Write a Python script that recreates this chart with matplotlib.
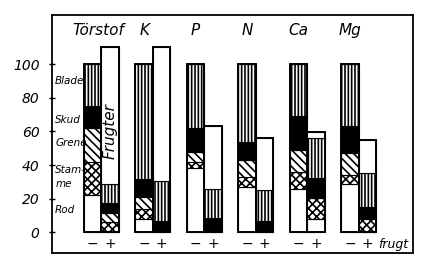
import numpy as np
import matplotlib
matplotlib.use("Agg")
import matplotlib.pyplot as plt

categories = ["Törstof", "K", "P", "N", "Ca", "Mg"]
parts = ["Rod", "Stamme", "Grene", "Skud", "Blade", "Frugt"]

# minus fruit (−)
rod_minus = [22, 8, 38, 27, 26, 29]
stamme_minus = [20, 6, 4, 6, 10, 5]
grene_minus = [20, 7, 6, 10, 13, 13]
skud_minus = [13, 11, 14, 11, 20, 16]
blade_minus = [25, 68, 38, 46, 31, 37]
frugt_minus = [0, 0, 0, 0, 0, 0]

# plus fruit (+)
rod_plus = [0, 0, 0, 0, 8, 0]
stamme_plus = [6, 1.5, 1.5, 1.5, 12.5, 8]
grene_plus = [5.5, 0, 0, 0, 0, 0]
skud_plus = [6, 5, 7, 5, 12, 7]
blade_plus = [11.5, 24, 17, 18.5, 23.5, 20]
frugt_plus = [81, 79.5, 38, 31, 3.5, 20]

yticks = [0, 20, 40, 60, 80, 100]
sign_labels = ["−", "+"]

plt.rcParams['hatch.linewidth'] = 1.2
plt.rcParams['hatch.color'] = 'black'
fig = plt.figure(figsize=(4.43, 2.66), dpi=100)
ax = fig.add_axes([52 / 443, 13 / 266, 361 / 443, 238 / 266])

styles = {
    "Rod": dict(color="white", hatch=None),
    "Stamme": dict(color="white", hatch="xxxx"),
    "Grene": dict(color="white", hatch="\\\\\\\\"),
    "Skud": dict(color="black", hatch=None),
    "Blade": dict(color="white", hatch="|||||"),
    "Frugt": dict(color="white", hatch=None),
}

minus = [rod_minus, stamme_minus, grene_minus, skud_minus, blade_minus, frugt_minus]
plus = [rod_plus, stamme_plus, grene_plus, skud_plus, blade_plus, frugt_plus]

x = np.arange(len(categories))
w = 0.34
for offset, series in [(-w / 2, minus), (w / 2, plus)]:
    bottom = np.zeros(len(categories))
    for name, vals in zip(parts, series):
        vals = np.array(vals, dtype=float)
        st = styles[name]
        ax.bar(x + offset, vals, w, bottom=bottom, color=st["color"],
               hatch=st["hatch"], edgecolor="black", linewidth=0.8)
        bottom += vals
    ax.bar(x + offset, bottom, w, bottom=0, fill=False, edgecolor="black", linewidth=1.4)

ax.set_xlim(-0.961, 6.05)
ax.set_ylim(-12.3, 129.3)

for s in ax.spines.values():
    s.set_linewidth(1.3)

ax.set_xticks([])
ax.set_yticks(yticks)
ax.set_yticklabels([str(t) for t in yticks], fontsize=10, style="italic")
ax.tick_params(axis="y", direction="inout", length=4, width=1, pad=7)

font = dict(style="italic")
for i, c in enumerate(categories):
    xx = i - 0.07 if i == 0 else i - w / 2
    ax.text(xx, 120, c, ha="center", va="center", fontsize=11, **font)
    for j, s in enumerate(sign_labels):
        ax.text(i + (j - 0.5) * w, -7, s, ha="center", va="center", fontsize=10)

ax.text(5.66, -7, "frugt", ha="center", va="center", fontsize=9, **font)
ax.text(0.17, 60, "Frugter", ha="center", va="center", rotation=90, fontsize=11,
        **font)

side = [("Blade", 90), ("Skud", 67), ("Grene", 53), ("Stam-", 37), ("me", 29), ("Rod", 13)]
for lbl, yy in side:
    ax.text(-0.9, yy, lbl, ha="left", va="center", fontsize=7.5, **font)

fig.savefig("out.png", dpi=100)
